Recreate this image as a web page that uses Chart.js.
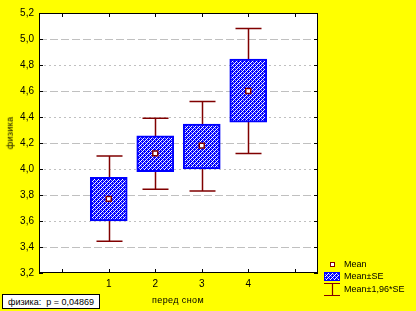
<!DOCTYPE html>
<html><head><meta charset="utf-8">
<script src="https://cdn.jsdelivr.net/npm/chart.js@4"></script>
<style>
html,body{margin:0;padding:0;background:#ffff00;}
#wrap{position:relative;width:416px;height:311px;overflow:hidden;background:#ffff00;font-family:"Liberation Sans",Arial,sans-serif;}
canvas{position:absolute;left:0;top:0;}
.t{position:absolute;font-size:9px;color:#000;white-space:nowrap;line-height:1;}
</style></head><body>
<div id="wrap"><canvas id="c" width="416" height="311"></canvas>
<div class="t" id="ytitle" style="left:-6px;top:133px;transform:translate(0,-50%) rotate(-90deg);transform-origin:center;letter-spacing:0.3px;">физика</div>
<div class="t" style="left:152px;top:296px;letter-spacing:0.4px;">перед сном</div>
<div class="t" style="left:2px;top:294px;width:98px;height:15px;border:1px solid #000;background:#fff;box-sizing:border-box;padding:3px 0 0 5px;">физика:&nbsp; p = 0,04869</div>
<div class="t" style="left:344px;top:260px;">Mean</div>
<div class="t" style="left:344px;top:272px;">Mean±SE</div>
<div class="t" style="left:344px;top:285px;">Mean±1,96*SE</div>
</div>
<script>
const categories = [1, 2, 3, 4];
const meanValues = [3.77, 4.12, 4.18, 4.60];
const seLow = [3.60, 3.98, 4.00, 4.36];
const seHigh = [3.935, 4.255, 4.345, 4.845];
const ciLow = [3.445, 3.845, 3.83, 4.12];
const ciHigh = [4.10, 4.39, 4.52, 5.08];
const yTickMin = 3.2, yTickMax = 5.2, yTickStep = 0.2;
const xTickValues = [0, 1, 2, 3, 4, 5];
const xTickLabels = ['', '1', '2', '3', '4', ''];

function makePattern(){
  const p=document.createElement('canvas');p.width=4;p.height=4;
  const g=p.getContext('2d');
  g.fillStyle='#0000ff';g.fillRect(0,0,4,4);
  g.fillStyle='#ffffff';
  [[1,0],[3,2],[0,1],[2,3]].forEach(([x,y])=>g.fillRect(x,y,1,1));
  g.fillStyle='#9a9aff';
  [[3,0],[1,2]].forEach(([x,y])=>g.fillRect(x,y,1,1));
  return g.createPattern(p,'repeat');
}
const ctx=document.getElementById('c').getContext('2d');
const pattern=makePattern();
const RED='#800000';

const frame={
  id:'frame',
  beforeDraw(chart){
    const {ctx,chartArea:a}=chart;
    ctx.save();ctx.fillStyle='#ffffff';ctx.fillRect(a.left,a.top,a.right-a.left,a.bottom-a.top);ctx.restore();
  },
  beforeDatasetsDraw(chart){
    const {ctx,chartArea:a,scales:{x,y}}=chart;
    ctx.save();
    y.ticks.forEach((t,i)=>{
      if(i===0||i===y.ticks.length-1)return;
      const py=Math.round(y.getPixelForValue(t.value))+0.5;
      ctx.strokeStyle='#c0c0c0';ctx.lineWidth=1;
      ctx.setLineDash(i%2===1?[8,3]:[2,3]);
      ctx.beginPath();ctx.moveTo(a.left,py);ctx.lineTo(a.right,py);ctx.stroke();
    });
    ctx.setLineDash([]);
    ctx.strokeStyle=RED;ctx.lineWidth=1.5;
    categories.forEach((c,i)=>{
      const px=Math.round(x.getPixelForValue(c))+0.5;
      const t=y.getPixelForValue(ciHigh[i]),b=y.getPixelForValue(ciLow[i]);
      ctx.beginPath();
      ctx.moveTo(px,t);ctx.lineTo(px,b);
      ctx.moveTo(px-13,t);ctx.lineTo(px+13,t);
      ctx.moveTo(px-13,b);ctx.lineTo(px+13,b);
      ctx.stroke();
    });
    ctx.restore();
  },
  afterDraw(chart){
    const {ctx,chartArea:a,scales:{x,y}}=chart;
    ctx.save();
    ctx.strokeStyle='#000';ctx.lineWidth=1;
    ctx.strokeRect(a.left+0.5,a.top+0.5,a.right-a.left-1,a.bottom-a.top-1);
    ctx.beginPath();
    y.ticks.forEach(t=>{
      const py=Math.round(y.getPixelForValue(t.value))+0.5;
      ctx.moveTo(a.left,py);ctx.lineTo(a.left+4,py);
      ctx.moveTo(a.right,py);ctx.lineTo(a.right-4,py);
    });
    x.ticks.forEach(t=>{
      const px=Math.round(x.getPixelForValue(t.value))+0.5;
      ctx.moveTo(px,a.top);ctx.lineTo(px,a.top+4);
      ctx.moveTo(px,a.bottom);ctx.lineTo(px,a.bottom-4);
    });
    ctx.stroke();
    ctx.fillStyle='#fff';ctx.strokeStyle=RED;ctx.lineWidth=1;
    ctx.fillRect(330,262,5,5);ctx.strokeRect(330.5,262.5,4,4);
    ctx.fillStyle=pattern;ctx.fillRect(324,272,16,9);
    ctx.strokeStyle='#0000ff';ctx.strokeRect(324.5,272.5,15,8);
    ctx.strokeStyle=RED;ctx.lineWidth=1.2;
    ctx.beginPath();ctx.moveTo(324,283.5);ctx.lineTo(340,283.5);ctx.moveTo(332.5,283.5);ctx.lineTo(332.5,295);ctx.moveTo(324,295.5);ctx.lineTo(340,295.5);ctx.stroke();
    ctx.restore();
  }
};

new Chart(ctx,{
  type:'bar',
  data:{datasets:[
    {type:'scatter',label:'Mean',data:categories.map((c,i)=>({x:c,y:meanValues[i]})),
     pointStyle:'rect',pointRadius:3.5,backgroundColor:'#ffffff',borderColor:RED,borderWidth:1.5,order:0},
    {type:'bar',label:'Mean±SE',data:categories.map((c,i)=>({x:c,y:[seLow[i],seHigh[i]]})),
     backgroundColor:pattern,borderColor:'#0000ff',borderWidth:2,borderSkipped:false,barThickness:37,grouped:false,order:1}
  ]},
  options:{
    responsive:false,animation:false,devicePixelRatio:1,
    layout:{padding:{left:0,top:13,right:98,bottom:0}},
    plugins:{legend:{display:false},tooltip:{enabled:false}},
    scales:{
      x:{type:'linear',min:-0.5,max:5.5,offset:false,
        afterBuildTicks(s){s.ticks=xTickValues.map(v=>({value:v}));},
        ticks:{autoSkip:false,maxRotation:0,padding:5,color:'#000',font:{size:10,family:'"Liberation Sans",Arial,sans-serif'},
          callback:v=>{const i=xTickValues.indexOf(v);return i>=0?xTickLabels[i]:'';}},
        grid:{display:false,drawTicks:false},border:{display:false},
        afterFit(s){s.height=38;}},
      y:{type:'linear',min:yTickMin,max:yTickMax,
        ticks:{stepSize:yTickStep,padding:5,color:'#000',font:{size:10,family:'"Liberation Sans",Arial,sans-serif'},
          callback:v=>v.toFixed(1).replace('.',',')},
        grid:{display:false,drawTicks:false},border:{display:false},
        afterFit(s){s.width=39;}}
    }
  },
  plugins:[frame]
});
</script>
</body></html>
